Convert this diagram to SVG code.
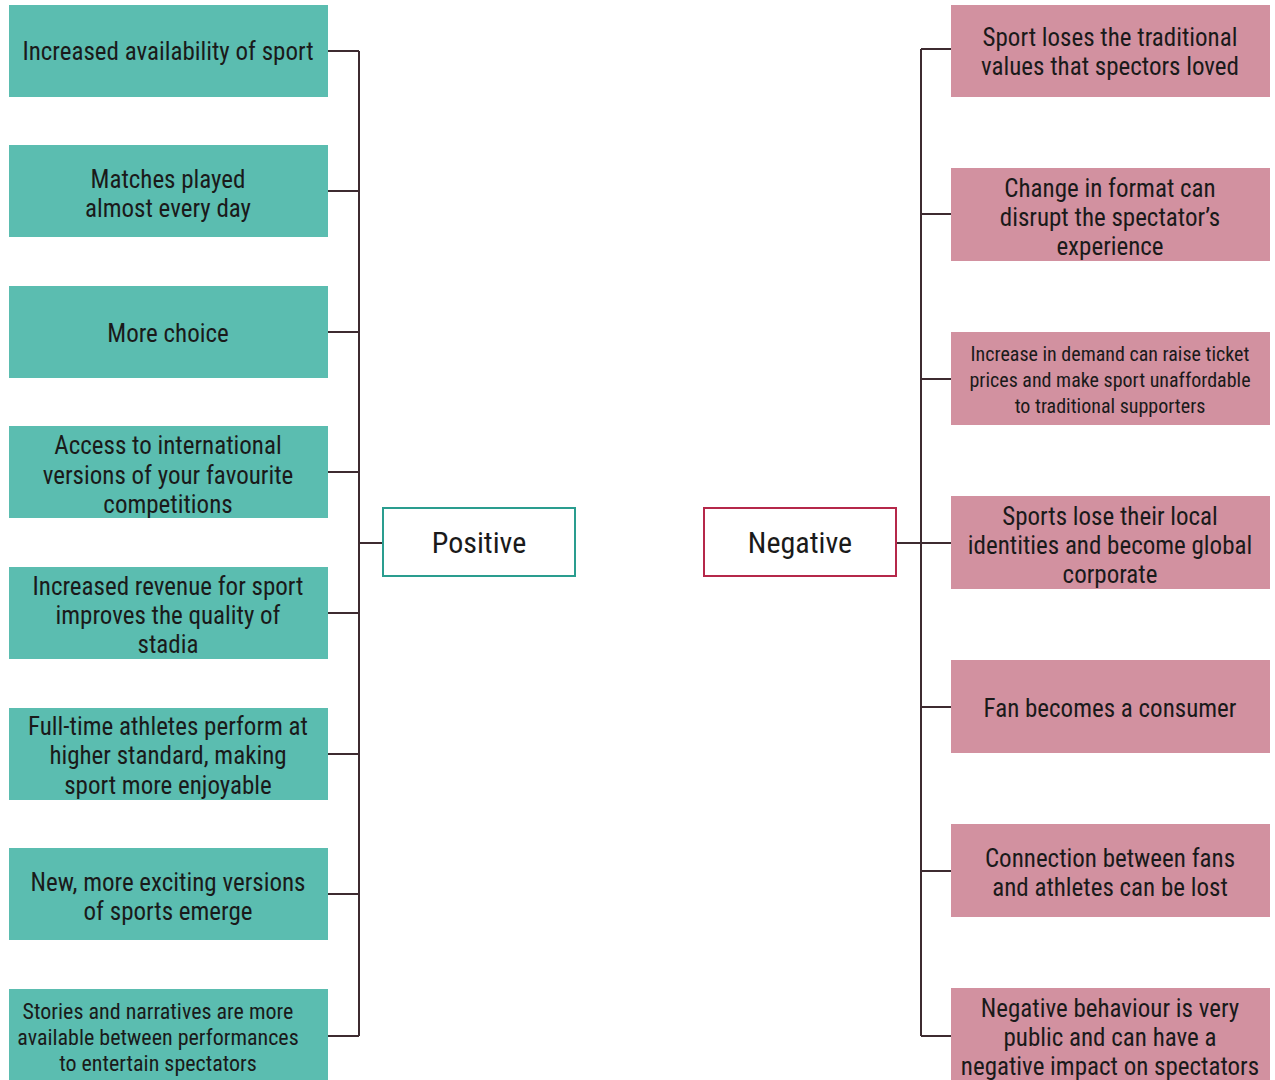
<svg xmlns="http://www.w3.org/2000/svg" width="1275" height="1080" viewBox="0 0 1275 1080">
<style>
.pos{fill:#5bbdb0}
.neg{fill:#d291a0}
.t{font-family:"Liberation Sans Narrow","Roboto Condensed","Liberation Sans",sans-serif;font-size:25px;fill:#1a1a1a;text-anchor:middle;dominant-baseline:central}
.s{font-size:20px}
.s2{font-size:22px}
.c{fill:none;stroke:#3d2b30;stroke-width:2}
.hub{fill:#fff;stroke-width:2}
.big{font-size:30px}
</style>
<rect width="1275" height="1080" fill="#fff"/>
<g id="connectors" class="c">
<path d="M328 51H359M328 191H359M328 332H359M328 472H359M328 613H359M328 754H359M328 894H359M328 1036H359M359 51V1036M359 543H383"/>
<path d="M951 49H921M951 214H921M951 379H921M951 543H921M951 707H921M951 871H921M951 1036H921M921 49V1036M896 543H921"/>
</g>
<g id="positive"><rect class="hub" x="383" y="508" width="192" height="68" stroke="#2a9d8f"/><text class="t big" x="479" y="542">Positive</text></g>
<g id="negative"><rect class="hub" x="704" y="508" width="192" height="68" stroke="#b5284a"/><text class="t big" x="800" y="542">Negative</text></g>
<g id="p1"><rect class="pos" x="9" y="5" width="319" height="92"/><text class="t" x="168" y="51">Increased availability of sport</text></g>
<g id="p2"><rect class="pos" x="9" y="145" width="319" height="92"/><text class="t" x="168" y="179">Matches played</text><text class="t" x="168" y="208">almost every day</text></g>
<g id="p3"><rect class="pos" x="9" y="286" width="319" height="92"/><text class="t" x="168" y="333">More choice</text></g>
<g id="p4"><rect class="pos" x="9" y="426" width="319" height="92"/><text class="t" x="168" y="445">Access to international</text><text class="t" x="168" y="475">versions of your favourite</text><text class="t" x="168" y="504">competitions</text></g>
<g id="p5"><rect class="pos" x="9" y="567" width="319" height="92"/><text class="t" x="168" y="586">Increased revenue for sport</text><text class="t" x="168" y="615">improves the quality of</text><text class="t" x="168" y="644">stadia</text></g>
<g id="p6"><rect class="pos" x="9" y="708" width="319" height="92"/><text class="t" x="168" y="726">Full-time athletes perform at</text><text class="t" x="168" y="755">higher standard, making</text><text class="t" x="168" y="785">sport more enjoyable</text></g>
<g id="p7"><rect class="pos" x="9" y="848" width="319" height="92"/><text class="t" x="168" y="882">New, more exciting versions</text><text class="t" x="168" y="911">of sports emerge</text></g>
<g id="p8"><rect class="pos" x="9" y="989" width="319" height="91"/><text class="t s2" x="158" y="1011">Stories and narratives are more</text><text class="t s2" x="158" y="1037">available between performances</text><text class="t s2" x="158" y="1063">to entertain spectators</text></g>
<g id="n1"><rect class="neg" x="951" y="5" width="319" height="92"/><text class="t" x="1110" y="37">Sport loses the traditional</text><text class="t" x="1110" y="66">values that spectors loved</text></g>
<g id="n2"><rect class="neg" x="951" y="168" width="319" height="93"/><text class="t" x="1110" y="188">Change in format can</text><text class="t" x="1110" y="217">disrupt the spectator’s</text><text class="t" x="1110" y="246">experience</text></g>
<g id="n3"><rect class="neg" x="951" y="332" width="319" height="93"/><text class="t s" x="1110" y="354">Increase in demand can raise ticket</text><text class="t s" x="1110" y="380">prices and make sport unaffordable</text><text class="t s" x="1110" y="406">to traditional supporters</text></g>
<g id="n4"><rect class="neg" x="951" y="496" width="319" height="93"/><text class="t" x="1110" y="516">Sports lose their local</text><text class="t" x="1110" y="545">identities and become global</text><text class="t" x="1110" y="574">corporate</text></g>
<g id="n5"><rect class="neg" x="951" y="660" width="319" height="93"/><text class="t" x="1110" y="708">Fan becomes a consumer</text></g>
<g id="n6"><rect class="neg" x="951" y="824" width="319" height="93"/><text class="t" x="1110" y="858">Connection between fans</text><text class="t" x="1110" y="887">and athletes can be lost</text></g>
<g id="n7"><rect class="neg" x="951" y="988" width="319" height="92"/><text class="t" x="1110" y="1008">Negative behaviour is very</text><text class="t" x="1110" y="1037">public and can have a</text><text class="t" x="1110" y="1066">negative impact on spectators</text></g>
</svg>
